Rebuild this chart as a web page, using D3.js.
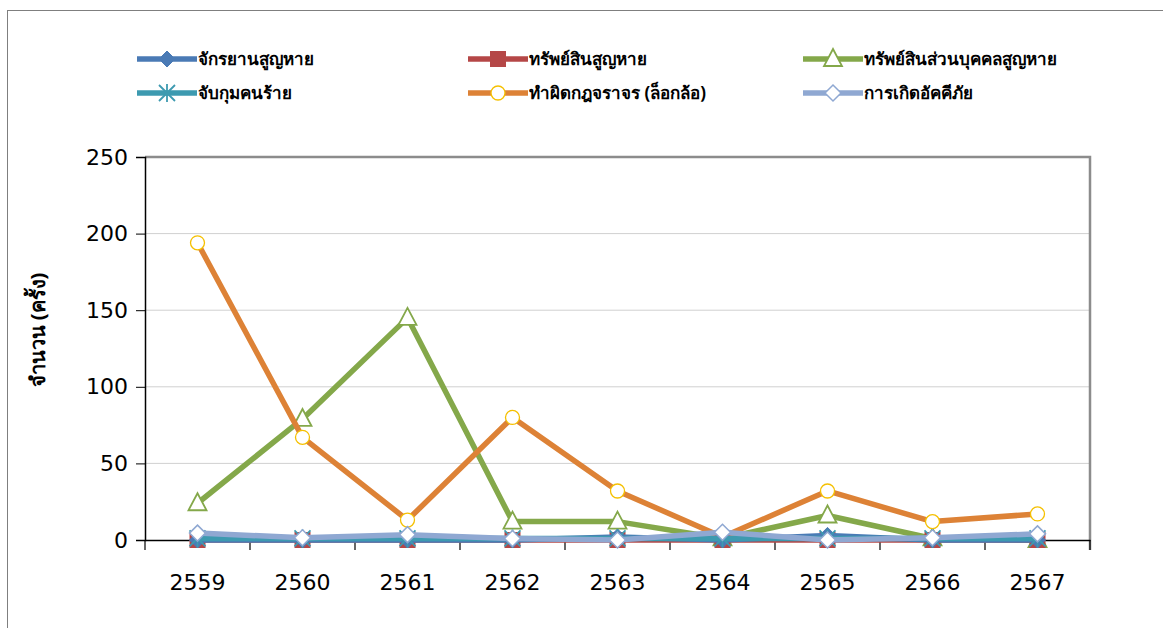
<!DOCTYPE html>
<html><head><meta charset="utf-8">
<script src="https://cdn.jsdelivr.net/npm/d3@7"></script>
<style>
html,body{margin:0;padding:0;background:#fff;}
svg{display:block;font-family:"Noto Sans","DejaVu Sans",sans-serif;}
</style></head>
<body><svg id="c" width="1163" height="628"></svg>
<script>
const years = ["2559","2560","2561","2562","2563","2564","2565","2566","2567"];
const yTicks = [0,50,100,150,200,250];
const seriesNames = ["จักรยานสูญหาย","ทรัพย์สินสูญหาย","ทรัพย์สินส่วนบุคคลสูญหาย","จับกุมคนร้าย","ทำผิดกฎจราจร (ล็อกล้อ)","การเกิดอัคคีภัย"];
const bicycle  = [0,0,0,0,2,0,3,0,0];
const property = [0,0,0,0,0,0,0,0,0];
const personal = [24,79,145,12,12,1,16,1,0];
const arrest   = [1,1,1,1,1,1,1,1,1];
const traffic  = [194,67,13,80,32,2,32,12,17];
const fire     = [4.5,1.5,3.5,1,0,5,0,1.5,4];
const yLabel = "จำนวน (ครั้ง)";

const series = [
  {name:seriesNames[0], values:bicycle, color:"#4a7ab5", marker:"diamondFilled"},
  {name:seriesNames[1], values:property, color:"#b54747", marker:"square"},
  {name:seriesNames[2], values:personal, color:"#84a84a", marker:"triangle"},
  {name:seriesNames[3], values:arrest, color:"#3d9ab0", marker:"star"},
  {name:seriesNames[4], values:traffic, color:"#dd8236", marker:"circle"},
  {name:seriesNames[5], values:fire, color:"#8fa8d2", marker:"diamond"}
];
const drawOrder = [2,4,1,0,3,5];

const svg = d3.select("#c");
const L=145,R=1090,T=157,B=540;
svg.append("rect").attr("x",7.5).attr("y",10.5).attr("width",1170).attr("height",640)
  .attr("fill","#fff").attr("stroke","#7f7f7f").attr("stroke-width",1);

const x = d3.scaleBand().domain(years).range([L,R]);
const y = d3.scaleLinear().domain([0,250]).range([B,T]);

svg.append("g").selectAll("line").data(yTicks.filter(d=>d>0&&d<250)).join("line")
  .attr("x1",L).attr("x2",R).attr("y1",d=>y(d)).attr("y2",d=>y(d))
  .attr("stroke","#d0d0d0").attr("stroke-width",1);
svg.append("path").attr("d",`M${L},${T}H${R}V${B+10}`).attr("fill","none")
  .attr("stroke","#8c8c8c").attr("stroke-width",2.5);

const tickFont = "DejaVu Sans, Verdana, sans-serif";
const yAxis = svg.append("g").attr("transform",`translate(${L},0)`)
  .call(d3.axisLeft(y).tickValues(yTicks).tickSize(9).tickPadding(8));
yAxis.select(".domain").attr("stroke","#000").attr("stroke-width",1.5);
yAxis.selectAll("line").attr("stroke","#000");
yAxis.selectAll("text").attr("font-size",22).attr("fill","#000").attr("font-family",tickFont);

const xAxis = svg.append("g").attr("transform",`translate(0,${B})`)
  .call(d3.axisBottom(x).tickSizeOuter(0).tickSizeInner(0).tickPadding(34));
xAxis.select(".domain").attr("stroke","#000").attr("stroke-width",1.5);
xAxis.selectAll("text").attr("font-size",22).attr("fill","#000").attr("font-family",tickFont);
const bounds = years.map(d=>x(d)).concat([R]);
svg.append("g").selectAll("line").data(bounds).join("line")
  .attr("x1",d=>d).attr("x2",d=>d).attr("y1",B).attr("y2",B+10)
  .attr("stroke","#000").attr("stroke-width",1.2);

svg.append("text").attr("transform","translate(45,330) rotate(-90)")
  .attr("text-anchor","middle").attr("font-size",20).attr("font-weight","bold").text(yLabel);

function drawMarker(g, type, color, cx, cy){
  if(type==="diamondFilled"){
    g.append("path").attr("d",`M${cx},${cy-8}L${cx+8},${cy}L${cx},${cy+8}L${cx-8},${cy}Z`).attr("fill",color).attr("stroke",color);
  } else if(type==="square"){
    g.append("rect").attr("x",cx-8).attr("y",cy-8).attr("width",16).attr("height",16).attr("fill",color);
  } else if(type==="triangle"){
    g.append("path").attr("d",`M${cx},${cy-10}L${cx+9},${cy+7}L${cx-9},${cy+7}Z`).attr("fill","#fff").attr("stroke",color).attr("stroke-width",1.8);
  } else if(type==="star"){
    const s=8;
    g.append("path").attr("d",`M${cx-s},${cy-s}L${cx+s},${cy+s}M${cx-s},${cy+s}L${cx+s},${cy-s}M${cx},${cy-s-1}V${cy+s+1}`)
      .attr("stroke",color).attr("stroke-width",1.8);
  } else if(type==="circle"){
    g.append("circle").attr("cx",cx).attr("cy",cy).attr("r",7).attr("fill","#fff").attr("stroke","#f5c000").attr("stroke-width",1.3);
  } else if(type==="diamond"){
    g.append("path").attr("d",`M${cx},${cy-8}L${cx+8},${cy}L${cx},${cy+8}L${cx-8},${cy}Z`).attr("fill","#fff").attr("stroke",color).attr("stroke-width",1.5);
  }
}

const line = d3.line().x((d,i)=>x(years[i])+x.bandwidth()/2).y(d=>y(d));
const plot = svg.append("g");
drawOrder.forEach(k=>{
  const s=series[k];
  const g=plot.append("g");
  g.append("path").attr("d",line(s.values)).attr("fill","none").attr("stroke",s.color)
    .attr("stroke-width",5.5).attr("stroke-linejoin","round");
  s.values.forEach((v,i)=>drawMarker(g,s.marker,s.color,x(years[i])+x.bandwidth()/2,y(v)));
});

const legCols=[137,468,803], legRows=[59,93];
series.forEach((s,i)=>{
  const lx=legCols[i%3], ly=legRows[Math.floor(i/3)];
  const g=svg.append("g");
  g.append("line").attr("x1",lx).attr("x2",lx+60).attr("y1",ly).attr("y2",ly).attr("stroke",s.color).attr("stroke-width",5.5);
  drawMarker(g,s.marker,s.color,lx+30,ly);
  g.append("text").attr("x",lx+61).attr("y",ly).attr("dy","0.35em").attr("font-size",17)
    .attr("font-weight","bold").text(s.name);
});
</script></body></html>
